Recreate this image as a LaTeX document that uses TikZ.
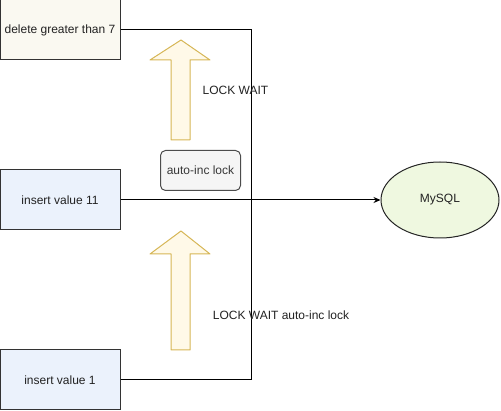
\documentclass[tikz,border=0pt]{standalone}
\usepackage{fontspec}
\setmainfont{Liberation Sans}
\usepackage{tikz}
\usetikzlibrary{shapes.geometric, arrows.meta}

\definecolor{delfill}{HTML}{FAF9F1}
\definecolor{insfill}{HTML}{EBF2FC}
\definecolor{lockfill}{HTML}{F5F5F5}
\definecolor{dbfill}{HTML}{EFF8E0}
\definecolor{arrfill}{HTML}{FFF9E8}
\definecolor{arrdraw}{HTML}{D6B656}
\definecolor{txt}{HTML}{222222}

\tikzset{
    stmt/.style={draw=black!80, line width=1pt, minimum width=120pt, minimum height=60pt,
        inner sep=0pt, text=txt},
    conn/.style={draw=black, line width=1pt},
    blockarrow/.style={draw=arrdraw, fill=arrfill, line width=1pt, line join=round},
}

\begin{document}
\begin{tikzpicture}[x=1pt, y=-1pt, font=\fontsize{12}{14}\selectfont]
    \useasboundingbox (0, 0) rectangle (501, 411);

    % statements
    \node[stmt, fill=delfill] at (60, 30) (del) {delete greater than 7};
    \node[stmt, fill=insfill] at (60, 200) (ins11) {insert value 11};
    \node[stmt, fill=insfill] at (60, 380) (ins1) {insert value 1};

    % lock box
    \node[draw=black!70, fill=lockfill, line width=1pt, rounded corners=5pt,
        minimum width=80pt, minimum height=40pt, text=txt!90] at (200.5, 170.5) (inc) {auto-inc lock};

    % database
    \node[ellipse, draw=black!85, fill=dbfill, line width=1pt, minimum width=118pt,
        minimum height=76pt, inner sep=0pt, text=txt] at (440, 200) (db) {MySQL};

    % wait arrows
    \draw[blockarrow] (171, 140) -- (171, 60) -- (150, 60) -- (181, 40) -- (210, 60)
        -- (190, 60) -- (190, 140) -- cycle;
    \draw[blockarrow] (171, 350) -- (171, 254) -- (150, 254) -- (181, 231) -- (210, 254)
        -- (190, 254) -- (190, 350) -- cycle;

    % connectors
    \coordinate (bus) at (251, 200);
    \draw[conn] (del.east) -| (bus);
    \draw[conn] (ins1.east) -| (bus);
    \draw[conn, -{Stealth[length=7pt, width=6pt]}] (ins11.east) -- (db.west);

    % labels
    \node[text=txt] at (235.5, 90) (w1) {LOCK WAIT};
    \node[text=txt] at (281, 315) (w2) {LOCK WAIT auto-inc lock};

\end{tikzpicture}
\end{document}
